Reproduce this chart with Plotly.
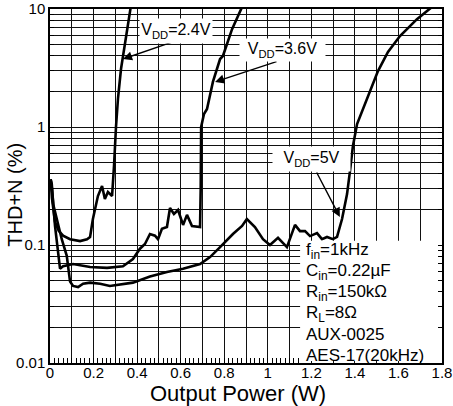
import math
import plotly.graph_objects as go

# THD+N (%) versus output power (W) for three supply voltages
p_24 = [0.003, 0.009, 0.023, 0.040, 0.060, 0.092, 0.138, 0.170, 0.184, 0.197, 0.220,
        0.239, 0.252, 0.266, 0.285, 0.289, 0.294, 0.303, 0.312, 0.326, 0.335, 0.354, 0.376]
thd_24 = [0.36, 0.25, 0.157, 0.132, 0.120, 0.112, 0.108, 0.112, 0.117, 0.166, 0.26,
          0.316, 0.245, 0.281, 0.26, 0.316, 0.47, 1.0, 1.73, 3.1, 4.0, 6.75, 12.0]

p_36 = [0.003, 0.009, 0.023, 0.037, 0.046, 0.060, 0.106, 0.184, 0.262, 0.335, 0.381,
        0.413, 0.436, 0.459, 0.482, 0.496, 0.514, 0.537, 0.551, 0.569, 0.588, 0.611,
        0.629, 0.652, 0.675, 0.689, 0.692, 0.694, 0.707, 0.721, 0.748, 0.781, 0.794,
        0.836, 0.882]
thd_36 = [0.36, 0.30, 0.145, 0.087, 0.063, 0.066, 0.069, 0.065, 0.064, 0.066, 0.076,
          0.093, 0.102, 0.124, 0.120, 0.112, 0.137, 0.142, 0.206, 0.183, 0.198, 0.148,
          0.180, 0.145, 0.142, 0.142, 0.30, 1.0, 1.29, 1.42, 2.41, 3.77, 4.0,
          6.75, 10.4]

p_50 = [0.003, 0.008, 0.015, 0.031, 0.054, 0.077, 0.092, 0.106, 0.129, 0.152, 0.184,
        0.230, 0.275, 0.381, 0.459, 0.537, 0.611, 0.689, 0.735, 0.781, 0.840, 0.882,
        0.904, 0.941, 0.978, 1.010, 1.047, 1.088, 1.125, 1.148, 1.171, 1.194, 1.226,
        1.249, 1.272, 1.299, 1.318, 1.341, 1.364, 1.377, 1.391, 1.410, 1.460, 1.506,
        1.552, 1.607, 1.685, 1.754]
thd_50 = [0.36, 0.33, 0.22, 0.166, 0.112, 0.081, 0.049, 0.045, 0.044, 0.047, 0.048,
          0.047, 0.045, 0.048, 0.054, 0.059, 0.063, 0.069, 0.079, 0.096, 0.124, 0.145,
          0.166, 0.142, 0.112, 0.100, 0.115, 0.096, 0.148, 0.131, 0.131, 0.119, 0.126,
          0.112, 0.117, 0.112, 0.117, 0.166, 0.27, 0.416, 0.69, 1.06, 1.83, 2.98,
          4.32, 5.9, 8.2, 10.4]

# Axis ticks (small bottom ticks stop where the conditions panel begins)
x_tick_vals = [round(0.2 * i, 1) for i in range(10)]
x_tick_text = ["0", "0.2", "0.4", "0.6", "0.8", "1", "1.2", "1.4", "1.6", "1.8"]
x_half_grid = [round(0.1 + 0.2 * i, 1) for i in range(9)]
x_minor_vals = [round(0.02 * i, 2) for i in range(58)]
y_tick_vals = [0.01, 0.1, 1, 10]
y_tick_text = ["0.01", "0.1", "1", "10"]
y_minor_vals = [k * 10 ** e for e in (-2, -1, 0) for k in range(2, 10)]

# Curve labels: (text, label centre x, label centre log10 y, width, height,
#                arrow tail x, arrow tail y, arrow tip x, arrow tip y)
labels = [
    ("V<sub>DD</sub>=2.4V", 0.5785, 0.814, 72, 24, 0.574, 5.35, 0.335, 3.77),
    ("V<sub>DD</sub>=3.6V", 1.0675, 0.6525, 85, 22, 1.047, 3.62, 0.758, 2.41),
    ("V<sub>DD</sub>=5V", 1.2007, -0.271, 77, 24, 1.221, 0.424, 1.331, 0.173),
]

# Test conditions
conditions = [
    "f<sub>in</sub>=1kHz",
    "C<sub>in</sub>=0.22\u00b5F",
    "R<sub>in</sub>=150k\u03a9",
    "R<sub>L</sub>=8\u03a9",
    "AUX-0025",
    "AES-17(20kHz)",
]

FONT = "Liberation Sans, Arial, sans-serif"
GRID = "#111"

fig = go.Figure()
for p, thd in [(p_24, thd_24), (p_36, thd_36), (p_50, thd_50)]:
    fig.add_trace(go.Scatter(
        x=p, y=thd, mode="lines",
        line=dict(color="black", width=2.6),
        showlegend=False, hoverinfo="skip",
    ))
# empty trace so the overlaid grid axis gets drawn
fig.add_trace(go.Scatter(x=[], y=[], xaxis="x2", yaxis="y",
                         showlegend=False, hoverinfo="skip"))

# White panel behind the test-condition text
fig.add_shape(
    type="rect", xref="x domain", yref="y domain",
    x0=0.638, x1=1 - 4 / 392, y0=2 / 354, y1=0.3455,
    fillcolor="white", line=dict(width=0), layer="above",
)

annotations = []
for text, cx, cy, w, h, tx, ty, hx, hy in labels:
    annotations.append(dict(
        x=hx, y=math.log10(hy), ax=tx, ay=math.log10(ty),
        xref="x", yref="y", axref="x", ayref="y",
        text="", showarrow=True, arrowhead=2, arrowsize=1.3,
        arrowwidth=1.4, arrowcolor="black",
    ))
    annotations.append(dict(
        x=cx, y=cy, xref="x", yref="y", text=text, showarrow=False,
        bgcolor="white", width=w, height=h, borderpad=0,
        font=dict(family=FONT, size=16, color="black"),
        xanchor="center", yanchor="middle",
    ))

cond_y = [251, 272, 293, 314, 335, 356]
for text, py in zip(conditions, cond_y):
    annotations.append(dict(
        x=1.166, y=(363.3 - py) / 354, xref="x", yref="y domain",
        text=text, showarrow=False, xanchor="left", yanchor="middle",
        font=dict(family=FONT, size=17, color="black"),
    ))

# Axis titles
annotations.append(dict(
    x=(238 - 50) / 392, y=(363.3 - 394) / 354, xref="paper", yref="paper",
    text="Output Power (W)", showarrow=False, xanchor="center", yanchor="middle",
    font=dict(family=FONT, size=22, color="black"),
))
annotations.append(dict(
    x=(15 - 50) / 392, y=(363.3 - 195) / 354, xref="paper", yref="paper",
    text="THD+N (%)", showarrow=False, xanchor="center", yanchor="middle",
    textangle=-90, font=dict(family=FONT, size=20, color="black"),
))

fig.update_layout(
    width=453, height=406,
    margin=dict(l=50, r=11, t=9, b=43, autoexpand=False),
    paper_bgcolor="white", plot_bgcolor="white",
    font=dict(family=FONT, color="black"),
    annotations=annotations,
    xaxis=dict(
        range=[0, 1.8], tickmode="array", tickvals=x_tick_vals, ticktext=x_tick_text,
        showgrid=True, gridcolor=GRID, gridwidth=1, zeroline=False,
        showline=True, linecolor="black", linewidth=1.5, mirror=True,
        ticks="inside", ticklen=0, tickwidth=1, tickcolor="black",
        tickfont=dict(size=15), automargin=False, ticklabelstandoff=-5,
        minor=dict(tickmode="array", tickvals=x_minor_vals, ticks="inside",
                   ticklen=5, tickwidth=1, tickcolor="black", showgrid=False),
    ),
    xaxis2=dict(
        overlaying="x", anchor="y", side="bottom", range=[0, 1.8],
        tickmode="array", tickvals=x_half_grid, showticklabels=False, ticks="",
        showgrid=True, gridcolor=GRID, gridwidth=1, zeroline=False,
        showline=False, automargin=False,
    ),
    yaxis=dict(
        type="log", range=[-2, 1], tickmode="array", tickvals=y_tick_vals,
        ticktext=y_tick_text, showgrid=True, gridcolor=GRID, gridwidth=1,
        zeroline=False, showline=True, linecolor="black", linewidth=1.5,
        mirror="ticks", ticks="inside", ticklen=4, tickwidth=1, tickcolor="black",
        tickfont=dict(size=15), automargin=False,
        minor=dict(tickmode="array", tickvals=y_minor_vals, ticks="inside",
                   ticklen=4, tickwidth=1, tickcolor="black",
                   showgrid=True, gridcolor=GRID, gridwidth=1),
    ),
)

fig.write_html("out.html")
